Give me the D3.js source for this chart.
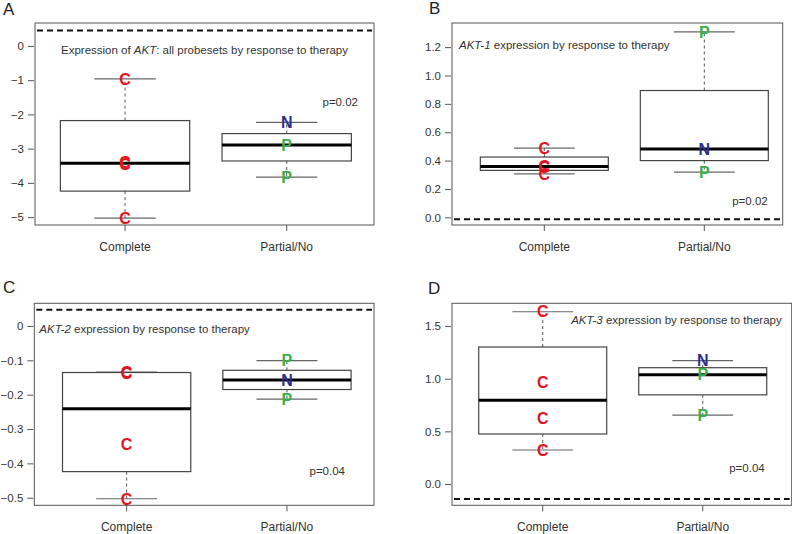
<!DOCTYPE html>
<html lang="en">
<head>
<meta charset="utf-8">
<title>AKT expression by response to therapy</title>
<script src="https://d3js.org/d3.v7.min.js"></script>
<style>
  body { margin: 0; background: #fff; }
  svg { display: block; font-family: "Liberation Sans", Arial, sans-serif; }
  .frame { fill: none; stroke: #555; stroke-width: 1; }
  .tick line { stroke: #555; }
  .tick text { fill: #333; font-size: 11.5px; }
  .xlab { fill: #333; font-size: 12px; text-anchor: middle; }
  .note { fill: #333; font-size: 11.5px; }
</style>
</head>
<body>
<svg id="vis" width="792" height="534"></svg>
<script>
// groups along the x axis
var groups = ["Complete", "Partial/No"];

// A: AKT, all probesets
var aktComplete = [-0.96, -3.40, -3.45, -5.03];
var aktCompleteLab = ["C", "C", "C", "C"];
var aktPartial = [-2.23, -2.89, -3.83];
var aktPartialLab = ["N", "P", "P"];

// B: AKT-1
var akt1Complete = [0.488, 0.362, 0.355, 0.307];
var akt1CompleteLab = ["C", "C", "C", "C"];
var akt1Partial = [1.307, 0.481, 0.319];
var akt1PartialLab = ["P", "N", "P"];

// C: AKT-2
var akt2Complete = [-0.134, -0.137, -0.345, -0.503];
var akt2CompleteLab = ["C", "C", "C", "C"];
var akt2Partial = [-0.101, -0.157, -0.213];
var akt2PartialLab = ["P", "N", "P"];

// D: AKT-3
var akt3Complete = [1.636, 0.966, 0.627, 0.323];
var akt3CompleteLab = ["C", "C", "C", "C"];
var akt3Partial = [1.171, 1.038, 0.655];
var akt3PartialLab = ["N", "P", "P"];

var pValues = ["p=0.02", "p=0.02", "p=0.04", "p=0.04"];
var refLines = [0.45, -0.014, 0.047, -0.142];

var ticksA = [0, -1, -2, -3, -4, -5];
var ticksB = [0, 0.2, 0.4, 0.6, 0.8, 1.0, 1.2];
var ticksC = [0, -0.1, -0.2, -0.3, -0.4, -0.5];
var ticksD = [0, 0.5, 1.0, 1.5];

var labColor = { C: "#e2141e", N: "#2b2f8c", P: "#3aae48" };

// panel layout (pixels) and axis limits
var panels = [
  { letter: "A", lx: 3, ly: 15, x0: 35, x1: 374, y0: 23, y1: 225, xd: [0.443, 2.54], yd: [-5.23, 0.67],
    data: [aktComplete, aktPartial], labs: [aktCompleteLab, aktPartialLab], ticks: ticksA, fmt: d3.format("d"),
    title: ["Expression of ", "AKT", ": all probesets by response to therapy"], tAnchor: "middle", tx: 169.5, ty: 50,
    px: 16, py: 102 },
  { letter: "B", lx: 429, ly: 14, x0: 452, x1: 782.7, y0: 23, y1: 225, xd: [0.423, 2.49], yd: [-0.054, 1.37],
    data: [akt1Complete, akt1Partial], labs: [akt1CompleteLab, akt1PartialLab], ticks: ticksB, fmt: d3.format(".1f"),
    title: ["", "AKT-1", " expression by response to therapy"], tAnchor: "start", tx: 7, ty: 45,
    px: 15, py: 201 },
  { letter: "C", lx: 3, ly: 293, x0: 34.3, x1: 374, y0: 303.3, y1: 505.3, xd: [0.424, 2.543], yd: [-0.522, 0.066],
    data: [akt2Complete, akt2Partial], labs: [akt2CompleteLab, akt2PartialLab], ticks: ticksC,
    fmt: function(d) { return d === 0 ? "0" : d3.format(".1f")(d); },
    title: ["", "AKT-2", " expression by response to therapy"], tAnchor: "start", tx: 5, ty: 329,
    px: 29, py: 471 },
  { letter: "D", lx: 428, ly: 294, x0: 452, x1: 791.7, y0: 303.3, y1: 505.3, xd: [0.433, 2.556], yd: [-0.202, 1.716],
    data: [akt3Complete, akt3Partial], labs: [akt3CompleteLab, akt3PartialLab], ticks: ticksD, fmt: d3.format(".1f"),
    title: ["", "AKT-3", " expression by response to therapy"], tAnchor: "end", tx: -10, ty: 320,
    px: 27, py: 468 }
];

// Tukey five-number summary, same as R's fivenum / boxplot.stats
function fivenum(v) {
  var x = v.slice().sort(d3.ascending), n = x.length;
  var n4 = Math.floor((n + 3) / 2) / 2;
  return [1, n4, (n + 1) / 2, n + 1 - n4, n].map(function(d) {
    return 0.5 * (x[Math.floor(d) - 1] + x[Math.ceil(d) - 1]);
  });
}

var svg = d3.select("#vis");

panels.forEach(function(p, i) {
  var x = d3.scaleLinear().domain(p.xd).range([p.x0, p.x1]);
  var y = d3.scaleLinear().domain(p.yd).range([p.y1, p.y0]);
  var g = svg.append("g");

  g.append("text").attr("x", p.lx).attr("y", p.ly)
    .style("font-size", "17px").style("fill", "#222").text(p.letter);

  // y axis
  var ya = g.append("g").attr("transform", "translate(" + (p.x0 - 1) + ",0)")
    .call(d3.axisLeft(y).tickValues(p.ticks).tickFormat(p.fmt).tickSize(6).tickPadding(4));
  ya.select(".domain").remove();

  // x axis ticks + labels
  groups.forEach(function(name, k) {
    g.append("line").attr("x1", x(k + 1)).attr("x2", x(k + 1))
      .attr("y1", p.y1).attr("y2", p.y1 + 6).attr("stroke", "#555");
    g.append("text").attr("class", "xlab").attr("x", x(k + 1)).attr("y", p.y1 + 26).text(name);
  });

  g.append("rect").attr("class", "frame")
    .attr("x", p.x0).attr("y", p.y0).attr("width", p.x1 - p.x0).attr("height", p.y1 - p.y0);

  // dashed reference line
  g.append("line").attr("x1", p.x0 + 2).attr("x2", p.x1 - 2)
    .attr("y1", y(refLines[i])).attr("y2", y(refLines[i]))
    .attr("stroke", "#111").attr("stroke-width", 2).attr("stroke-dasharray", "6,4");

  // boxes
  p.data.forEach(function(vals, k) {
    var s = fivenum(vals), iqr = s[3] - s[1];
    var lo = d3.min(vals.filter(function(v) { return v >= s[1] - 1.5 * iqr; }));
    var hi = d3.max(vals.filter(function(v) { return v <= s[3] + 1.5 * iqr; }));
    var c = k + 1;
    g.append("line").attr("x1", x(c)).attr("x2", x(c)).attr("y1", y(s[3])).attr("y2", y(hi))
      .attr("stroke", "#555").attr("stroke-dasharray", "3,3");
    g.append("line").attr("x1", x(c)).attr("x2", x(c)).attr("y1", y(s[1])).attr("y2", y(lo))
      .attr("stroke", "#555").attr("stroke-dasharray", "3,3");
    [lo, hi].forEach(function(w) {
      g.append("line").attr("x1", x(c - 0.19)).attr("x2", x(c + 0.19))
        .attr("y1", y(w)).attr("y2", y(w)).attr("stroke", "#666").attr("stroke-width", 1.2);
    });
    g.append("rect").attr("x", x(c - 0.4)).attr("y", y(s[3]))
      .attr("width", x(c + 0.4) - x(c - 0.4)).attr("height", y(s[1]) - y(s[3]))
      .attr("fill", "#fff").attr("stroke", "#444").attr("stroke-width", 1.2);
    g.append("line").attr("x1", x(c - 0.4)).attr("x2", x(c + 0.4))
      .attr("y1", y(s[2])).attr("y2", y(s[2])).attr("stroke", "#000").attr("stroke-width", 3);
  });

  // response letters
  p.data.forEach(function(vals, k) {
    g.selectAll(null).data(vals).enter().append("text")
      .attr("x", x(k + 1)).attr("y", function(d) { return y(d); })
      .attr("dy", "0.36em").attr("text-anchor", "middle")
      .style("font-size", "16px").style("font-weight", "bold")
      .style("fill", function(d, j) { return labColor[p.labs[k][j]]; })
      .text(function(d, j) { return p.labs[k][j]; });
  });

  // panel title
  var tx = p.tAnchor === "end" ? p.x1 + p.tx : p.x0 + p.tx;
  var t = g.append("text").attr("class", "note").attr("x", tx).attr("y", p.ty)
    .attr("dy", "0.35em").attr("text-anchor", p.tAnchor);
  t.append("tspan").text(p.title[0]);
  t.append("tspan").style("font-style", "italic").text(p.title[1]);
  t.append("tspan").text(p.title[2]);

  g.append("text").attr("class", "note").attr("x", p.x1 - p.px).attr("y", p.py)
    .attr("dy", "0.35em").attr("text-anchor", "end").text(pValues[i]);
});
</script>
</body>
</html>
